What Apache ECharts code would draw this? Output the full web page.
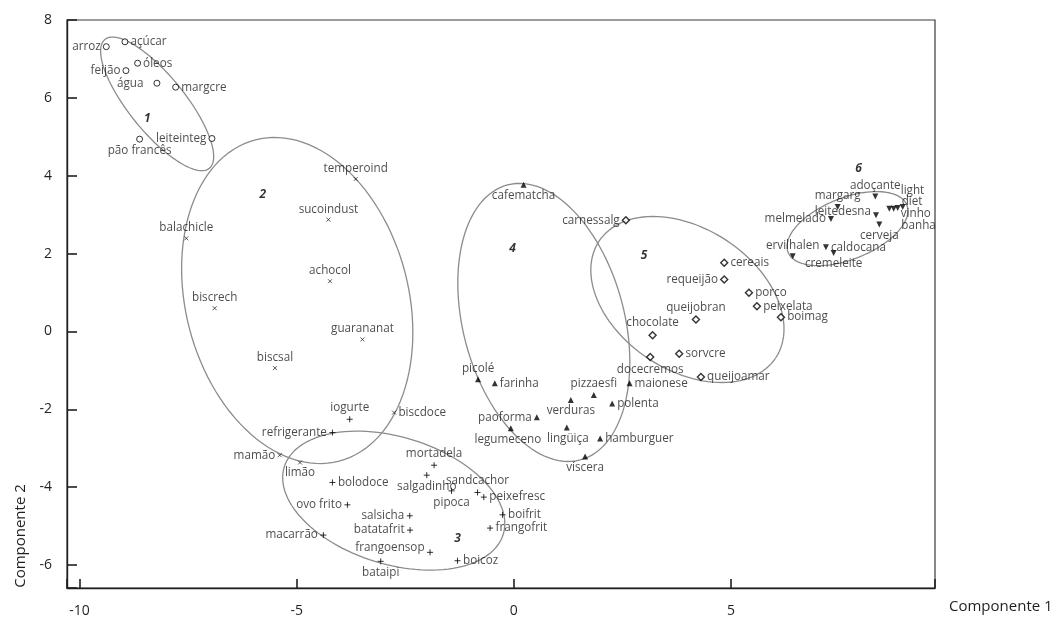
<!DOCTYPE html>
<html><head><meta charset="utf-8">
<script src="https://cdn.jsdelivr.net/npm/echarts@6/dist/echarts.min.js"></script>
<style>html,body{margin:0;padding:0;background:#fff}#c{width:1057px;height:618px}</style>
</head><body><div id="c"></div>
<script>
// ---- data ----
const g1Names = ['arroz','açúcar','óleos','feijão','água','margcre','leiteinteg','pão francês'];
const g1X = [-9.385,-8.956,-8.664,-8.933,-8.219,-7.788,-6.952,-8.618];
const g1Y = [7.315,7.44,6.89,6.70,6.377,6.274,4.956,4.94];

const g2Names = ['temperoind','sucoindust','balachicle','achocol','biscrech','guarananat','biscsal','biscdoce','mamão','limão'];
const g2X = [-3.641,-4.270,-7.542,-4.233,-6.889,-3.486,-5.5,-2.758,-5.392,-4.924];
const g2Y = [3.915,2.872,2.392,1.29,0.597,-0.205,-0.941,-2.085,-3.179,-3.367];

const g3Names = ['iogurte','refrigerante','mortadela','salgadinho','pipoca','sandcachor','peixefresc','bolodoce','ovo frito','salsicha','batatafrit','macarrão','frangoensop','bataipi','boicoz','boifrit','frangofrit'];
const g3X = [-3.779,-4.177,-1.836,-2.005,-1.435,-0.836,-0.691,-4.177,-3.832,-2.396,-2.389,-4.385,-1.929,-3.065,-1.297,-0.26,-0.546];
const g3Y = [-2.256,-2.597,-3.436,-3.692,-4.095,-4.136,-4.256,-3.879,-4.454,-4.736,-5.103,-5.231,-5.674,-5.905,-5.89,-4.71,-5.051];

const g4Names = ['cafematcha','picolé','farinha','pizzaesfi','verduras','polenta','maionese','paoforma','legumeceno','lingüiça','hamburguer','víscera'];
const g4X = [0.224,-0.823,-0.438,1.843,1.313,2.265,2.666,0.53,-0.069,1.221,1.988,1.643];
const g4Y = [3.769,-1.231,-1.333,-1.633,-1.762,-1.854,-1.333,-2.205,-2.487,-2.469,-2.751,-3.213];

const g5Names = ['carnessalg','cereais','requeijão','porco','peixelata','boimag','queijobran','chocolate','sorvcre','docecremos','queijoamar'];
const g5X = [2.581,4.846,4.846,5.415,5.599,6.152,4.194,3.196,3.809,3.141,4.309];
const g5Y = [2.854,1.762,1.333,0.992,0.649,0.367,0.308,-0.095,-0.572,-0.659,-1.172];

const g6Names = ['adoçante','margarg','leitedesna','melmelado','cerveja','light','diet','vinho','banha','ervilhalen','caldocana','cremeleite'];
const g6X = [8.325,7.459,8.341,7.304,8.417,8.956,8.841,8.749,8.648,6.422,7.189,7.366];
const g6Y = [3.469,3.197,2.982,2.890,2.744,3.197,3.172,3.154,3.154,1.931,2.162,2.018];

// cluster ellipses: centre (data), semi-axes (x-axis units), rotation (deg)
const ellCX = [-8.214,-4.988,-2.765,0.691,3.998,7.684];
const ellCY = [5.846,0.795,-4.346,0.231,0.821,2.641];
const ellA = [1.91,3.823,2.638,3.276,2.438,1.472];
const ellB = [0.645,2.565,1.465,1.857,1.631,0.707];
const ellAng = [-51,-75.4,-17.1,-75.2,-33.4,21.7];

// cluster numbers
const clusterIds = ['1','2','3','4','5','6'];
const clusterX = [-8.44,-5.778,-1.297,-0.03,3.002,7.942];
const clusterY = [5.47,3.513,-5.333,2.128,1.949,4.179];

// ---- label placement (style) ----
const side = {
 'arroz':'left','açúcar':'right','óleos':'right','feijão':'left','água':'left','margcre':'right','leiteinteg':'left','pão francês':'bottom',
 'biscdoce':'right','mamão':'left','limão':'bottom',
 'iogurte':'top','refrigerante':'left','mortadela':'top','salgadinho':'bottom','pipoca':'bottom','sandcachor':'top','peixefresc':'right','bolodoce':'right','ovo frito':'left','salsicha':'left','batatafrit':'left','macarrão':'left','frangoensop':'left','bataipi':'bottom','boicoz':'right','boifrit':'right','frangofrit':'right',
 'cafematcha':'bottom','picolé':'top','farinha':'right','pizzaesfi':'top','verduras':'bottom','polenta':'right','maionese':'right','paoforma':'left','legumeceno':'bottom','lingüiça':'bottom','hamburguer':'right','víscera':'bottom',
 'carnessalg':'left','cereais':'right','requeijão':'left','porco':'right','peixelata':'right','boimag':'right','queijobran':'top','chocolate':'top','sorvcre':'right','docecremos':'bottom','queijoamar':'right',
 'adoçante':'top','margarg':'top','leitedesna':'left','melmelado':'left','cerveja':'bottom','light':'right','diet':'right','vinho':'right','banha':'right','ervilhalen':'top','caldocana':'right','cremeleite':'bottom'
};
const shift = {
 'água':[-8,0],'frangoensop':[0,-5],'leitedesna':[0,-4],'legumeceno':[-3,0],'lingüiça':[1,0],
 'light':[-7,-16],'diet':[-1,-6],'vinho':[2,5],'banha':[7,17]
};

const INK = '#000000';
const FONT = 'Open Sans';

function pts(names, xs, ys) {
  return names.map((n, i) => {
    const lab = { position: side[n] || 'top' };
    if (shift[n]) lab.offset = shift[n];
    return { name: n, value: [xs[i], ys[i]], label: lab };
  });
}

function scatter(names, xs, ys, symbol, size, itemStyle, extra) {
  return Object.assign({
    type: 'scatter',
    data: pts(names, xs, ys),
    symbol: symbol,
    symbolSize: size,
    itemStyle: itemStyle,
    label: { show: true, formatter: '{b}', color: '#1e1b1c', fontFamily: FONT, fontSize: 11.7, distance: 2 },
    emphasis: { disabled: true },
    z: 3
  }, extra || {});
}

const ellData = ellCX.map((c, i) => [c, ellCY[i], ellA[i], ellB[i], ellAng[i]]);
const intLabel = v => (Math.abs(v - Math.round(v)) < 1e-6 ? String(Math.round(v)) : '');

const option = {
  animation: false,
  backgroundColor: '#fff',
  grid: { left: 67, right: 122, top: 20, bottom: 28, show: true, borderColor: '#3a3a3a', borderWidth: 1.2, backgroundColor: 'transparent' },
  xAxis: {
    type: 'value', min: -10.29, max: 9.70, splitNumber: 4,
    axisLine: { show: true, onZero: false, lineStyle: { color: '#231f20', width: 1.4 } },
    axisTick: { show: true, inside: true, length: 9, lineStyle: { color: '#231f20', width: 1.6 } },
    axisLabel: { margin: 16, color: '#231f20', fontFamily: FONT, fontSize: 14, formatter: intLabel },
    splitLine: { show: false },
    name: 'Componente 1', nameLocation: 'end', nameGap: 14,
    nameTextStyle: { color: '#231f20', fontFamily: FONT, fontSize: 15, align: 'left', verticalAlign: 'top', padding: [11, 0, 0, 0] }
  },
  yAxis: {
    type: 'value', min: -6.59, max: 8.0, splitNumber: 7,
    axisLine: { show: true, onZero: false, lineStyle: { color: '#231f20', width: 1.4 } },
    axisTick: { show: true, inside: true, length: 10, lineStyle: { color: '#231f20', width: 1.6 } },
    axisLabel: { margin: 15, color: '#231f20', fontFamily: FONT, fontSize: 14, formatter: intLabel },
    splitLine: { show: false }
  },
  graphic: [{
    type: 'text', x: 21, y: 536, rotation: Math.PI / 2,
    style: { text: 'Componente 2', fill: '#231f20', font: '15px "Open Sans"', align: 'center', verticalAlign: 'middle' }
  }],
  series: [
    {
      type: 'custom', data: ellData, silent: true, clip: false, z: 1,
      renderItem: function (params, api) {
        const c = api.coord([api.value(0), api.value(1)]);
        const s = api.size([1, 0])[0];
        const A = api.value(2) * s, B = api.value(3) * s;
        const phi = api.value(4) * Math.PI / 180;
        const cp = Math.cos(phi), sp = Math.sin(phi);
        const points = [];
        for (let k = 0; k < 120; k++) {
          const t = k / 120 * Math.PI * 2;
          const u = A * Math.cos(t), w = B * Math.sin(t);
          points.push([c[0] + u * cp - w * sp, c[1] - (u * sp + w * cp)]);
        }
        return { type: 'polygon', shape: { points: points }, style: { fill: 'none', stroke: '#8c8c8c', lineWidth: 1.3 } };
      }
    },
    scatter(g1Names, g1X, g1Y, 'circle', 6, { color: '#fff', borderColor: INK, borderWidth: 1 }),
    scatter(g2Names, g2X, g2Y, 'path://M0,0L10,10M10,0L0,10', 4, { color: 'transparent', borderColor: INK, borderWidth: 0.8 }),
    scatter(g3Names, g3X, g3Y, 'path://M5,0L5,10M0,5L10,5', 6, { color: 'transparent', borderColor: INK, borderWidth: 1 }),
    scatter(g4Names, g4X, g4Y, 'triangle', 6, { color: INK }),
    scatter(g5Names, g5X, g5Y, 'diamond', 7, { color: '#fff', borderColor: INK, borderWidth: 1.4 }),
    scatter(g6Names, g6X, g6Y, 'triangle', 6, { color: INK }, { symbolRotate: 180 }),
    {
      type: 'scatter', symbolSize: 0, silent: true, z: 4,
      data: clusterIds.map((n, i) => ({ name: n, value: [clusterX[i], clusterY[i]] })),
      label: { show: true, position: 'inside', formatter: '{b}', color: INK, fontFamily: FONT, fontSize: 12, fontWeight: 'bold', fontStyle: 'italic' }
    }
  ]
};

const chart = echarts.init(document.getElementById('c'), null, { renderer: 'canvas' });
chart.setOption(option);
</script>
</body></html>
